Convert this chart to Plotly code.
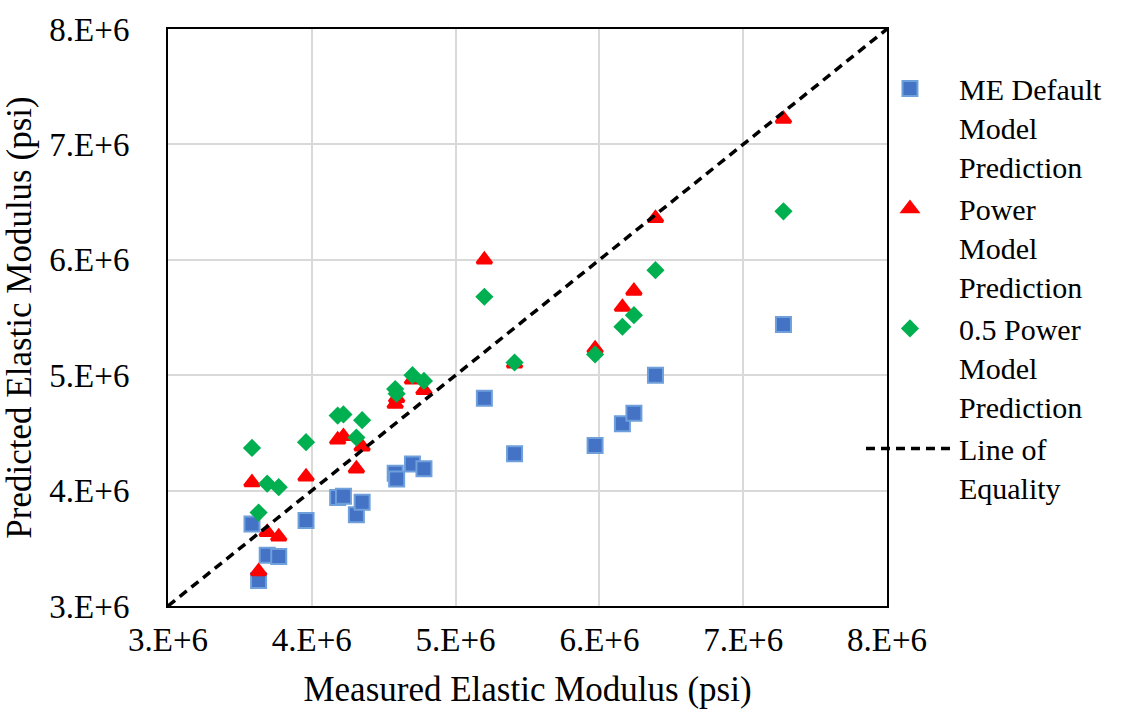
import plotly.graph_objects as go

# Measured elastic modulus (psi) for each specimen
measured = [3.584e6, 3.63e6, 3.69e6, 3.77e6, 3.96e6, 4.18e6, 4.22e6, 4.31e6, 4.35e6, 4.58e6,
            4.59e6, 4.70e6, 4.78e6, 5.20e6, 5.41e6, 5.97e6, 6.16e6, 6.24e6, 6.39e6, 7.28e6]

# Predicted elastic modulus (psi) by model
me_default = [3.71e6, 3.22e6, 3.44e6, 3.43e6, 3.74e6, 3.94e6, 3.95e6, 3.79e6, 3.90e6, 4.15e6,
              4.10e6, 4.23e6, 4.19e6, 4.80e6, 4.32e6, 4.39e6, 4.58e6, 4.67e6, 5.00e6, 5.44e6]
power = [4.07e6, 3.30e6, 3.64e6, 3.60e6, 4.12e6, 4.44e6, 4.47e6, 4.19e6, 4.38e6, 4.75e6,
         4.80e6, 4.96e6, 4.87e6, 6.00e6, 5.10e6, 5.23e6, 5.59e6, 5.73e6, 6.36e6, 7.22e6]
half_power = [4.37e6, 3.81e6, 4.06e6, 4.03e6, 4.42e6, 4.65e6, 4.66e6, 4.46e6, 4.61e6, 4.88e6,
              4.84e6, 5.00e6, 4.95e6, 5.68e6, 5.11e6, 5.18e6, 5.42e6, 5.52e6, 5.91e6, 6.42e6]

equality = [3e6, 8e6]

tick_vals = [3e6, 4e6, 5e6, 6e6, 7e6, 8e6]
tick_text = ["3.E+6", "4.E+6", "5.E+6", "6.E+6", "7.E+6", "8.E+6"]

FONT = "Liberation Serif, Times New Roman, serif"

fig = go.Figure()
fig.add_trace(go.Scatter(
    x=measured, y=me_default, mode="markers",
    name="ME Default<br>Model<br>Prediction",
    marker=dict(symbol="square", size=15, color="#4472C4",
                line=dict(color="#6FA0DC", width=2)),
))
fig.add_trace(go.Scatter(
    x=measured, y=power, mode="markers",
    name="Power<br>Model<br>Prediction",
    marker=dict(symbol="triangle-up", size=13, color="#FF0000",
                line=dict(color="#FF0000", width=3)),
))
fig.add_trace(go.Scatter(
    x=measured, y=half_power, mode="markers",
    name="0.5 Power<br>Model<br>Prediction",
    marker=dict(symbol="diamond", size=14, color="#00B050"),
))
fig.add_trace(go.Scatter(
    x=equality, y=equality, mode="lines",
    name="Line of<br>Equality",
    line=dict(color="black", width=3.5, dash="9px,6px"),
))

axis_common = dict(
    range=[3e6, 8e6], tickvals=tick_vals, ticktext=tick_text,
    showgrid=True, gridcolor="#D9D9D9", gridwidth=2,
    showline=True, linecolor="black", linewidth=2, mirror=True,
    zeroline=False, ticks="", tickfont=dict(family=FONT, size=33, color="#000000"),
)

fig.update_layout(
    width=1133, height=717,
    margin=dict(l=168, r=246, t=22, b=111),
    paper_bgcolor="white", plot_bgcolor="white",
    font=dict(family=FONT, size=33, color="#000000"),
    xaxis=dict(axis_common,
               title=dict(text="Measured Elastic Modulus (psi)",
                          font=dict(family=FONT, size=35), standoff=20),
               ticklabelstandoff=3),
    yaxis=dict(axis_common,
               title=dict(text="Predicted Elastic Modulus (psi)",
                          font=dict(family=FONT, size=35), standoff=8),
               ticklabelstandoff=30),
    legend=dict(x=0.9638, y=0.942, xanchor="left", yanchor="top",
                font=dict(family=FONT, size=30), bgcolor="rgba(0,0,0,0)",
                tracegroupgap=0, itemsizing="trace", valign="top",
                itemwidth=88),
    showlegend=True,
)

fig.write_html("out.html")
